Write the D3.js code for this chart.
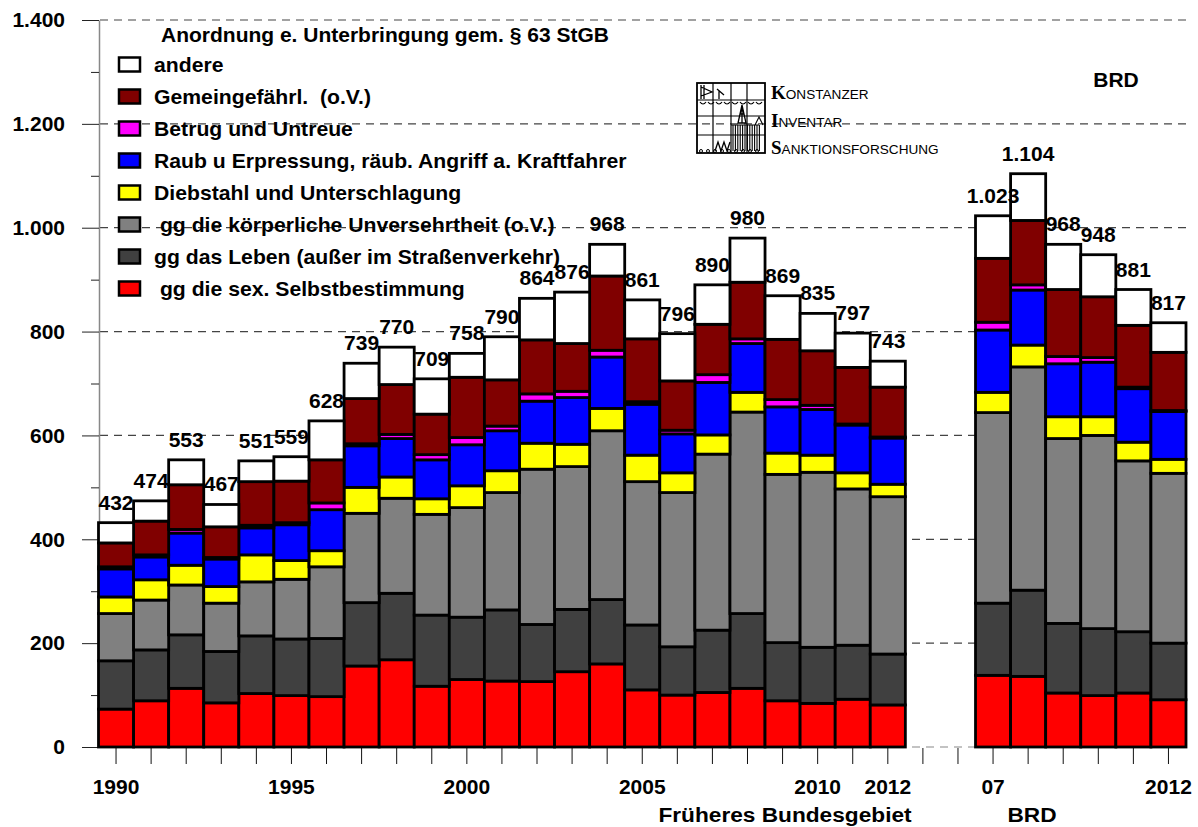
<!DOCTYPE html>
<html>
<head>
<meta charset="utf-8">
<script src="https://cdn.jsdelivr.net/npm/d3@7"></script>
<style>
  body { margin: 0; background: #fff; }
  svg text { font-family: "Liberation Sans", Arial, sans-serif; font-weight: bold; fill: #000; }
</style>
</head>
<body>
<div id="chart"></div>
<script>
// chart size
const width = 1198;
const height = 827;

// x slots: Früheres Bundesgebiet 1990-2012, two empty slots, BRD 2007-2012
const slots = [
  "1990", "1991", "1992", "1993", "1994", "1995", "1996", "1997", "1998", "1999",
  "2000", "2001", "2002", "2003", "2004", "2005", "2006", "2007", "2008", "2009",
  "2010", "2011", "2012", "gap1", "gap2",
  "BRD2007", "BRD2008", "BRD2009", "BRD2010", "BRD2011", "BRD2012",
];
const tickLabels = [
  "1990", "", "", "", "", "1995", "", "", "", "",
  "2000", "", "", "", "", "2005", "", "", "", "",
  "2010", "", "2012", "", "",
  "07", "", "", "", "", "2012",
];

// the bars (gap slots carry no data)
const categories = slots.filter((s) => !s.startsWith("gap"));

// series values, bottom to top of each stack
const sexSelbst = [73, 89, 113, 85, 103, 99, 97, 156, 168, 117, 130, 127, 126, 145, 160, 110, 100, 105, 113, 89, 84, 92, 81, 138, 136, 104, 99, 104, 91];
const leben = [93, 98, 103, 99, 111, 109, 112, 122, 128, 137, 120, 137, 110, 120, 124, 125, 93, 120, 144, 112, 108, 104, 98, 139, 166, 134, 129, 118, 109];
const koerper = [91, 96, 96, 93, 104, 115, 138, 172, 183, 194, 211, 226, 299, 275, 325, 276, 297, 339, 388, 324, 337, 301, 303, 367, 430, 356, 372, 329, 327];
const diebstahl = [32, 39, 38, 32, 52, 36, 31, 50, 41, 30, 42, 42, 50, 43, 43, 51, 38, 37, 38, 41, 33, 31, 24, 39, 42, 42, 36, 36, 27];
const raub = [54, 44, 62, 53, 52, 69, 79, 80, 74, 75, 79, 77, 81, 90, 99, 98, 75, 101, 94, 89, 88, 92, 89, 120, 106, 102, 105, 103, 92];
const betrug = [4, 4, 7, 3, 5, 4, 13, 4, 8, 10, 14, 9, 14, 12, 13, 5, 7, 15, 9, 14, 8, 2, 2, 15, 10, 14, 9, 3, 2];
const gemein = [46, 65, 86, 59, 84, 80, 83, 87, 96, 78, 116, 89, 104, 92, 143, 121, 95, 97, 109, 116, 105, 109, 96, 123, 124, 129, 117, 119, 112];
const andere = [39, 39, 48, 43, 40, 47, 75, 68, 72, 68, 46, 83, 80, 99, 61, 75, 91, 76, 85, 84, 72, 66, 50, 82, 90, 87, 81, 69, 57];

// totals printed above the bars
const totals = [432, 474, 553, 467, 551, 559, 628, 739, 770, 709, 758, 790, 864, 876, 968, 861, 796, 890, 980, 869, 835, 797, 743, 1023, 1104, 968, 948, 881, 817];

// series names and colours (stack order)
const seriesKeys = ["sex", "leben", "koerper", "dieb", "raub", "betrug", "gemein", "andere"];
const seriesNames = [
  " gg die sex. Selbstbestimmung",
  "gg das Leben (außer im Straßenverkehr)",
  " gg die körperliche Unversehrtheit (o.V.)",
  "Diebstahl und Unterschlagung",
  "Raub u Erpressung, räub. Angriff a. Kraftfahrer",
  "Betrug und Untreue",
  "Gemeingefährl.  (o.V.)",
  "andere",
];
const seriesColors = ["#ff0000", "#404040", "#808080", "#ffff00", "#0000ff", "#ff00ff", "#800000", "#ffffff"];

const yTicks = [0, 200, 400, 600, 800, 1000, 1200, 1400];
const yMinorTicks = [100, 300, 500, 700, 900, 1100, 1300];

// table for d3.stack
const seriesValues = [sexSelbst, leben, koerper, diebstahl, raub, betrug, gemein, andere];
const table = categories.map((c, i) => {
  const row = { cat: c, total: totals[i] };
  seriesKeys.forEach((k, j) => (row[k] = seriesValues[j][i]));
  return row;
});

// german number format (1.023)
const de = d3.formatLocale({ decimal: ",", thousands: ".", grouping: [3], currency: ["", " €"] });
const fmt = de.format(",d");

// scales
const x = d3.scaleBand().domain(slots).range([98.5, 1186]).padding(0);
const y = d3.scaleLinear().domain([0, 1400]).range([747, 20]);

const svg = d3
  .select("#chart")
  .append("svg")
  .attr("width", width)
  .attr("height", height)
  .style("background", "#fff");

// dashed gridlines
svg
  .append("g")
  .selectAll("line")
  .data(yTicks)
  .enter()
  .append("line")
  .attr("x1", 100)
  .attr("x2", 1186)
  .attr("y1", (d) => y(d))
  .attr("y2", (d) => y(d))
  .attr("stroke", (d) => (d === 0 ? "#888" : "#444"))
  .attr("stroke-width", 1.2)
  .attr("stroke-dasharray", "8,6");

// y axis, major and minor ticks
const yAxis = svg
  .append("g")
  .attr("transform", "translate(99,0)")
  .call(d3.axisLeft(y).tickValues(yTicks).tickSize(17).tickSizeOuter(0).tickPadding(17).tickFormat(fmt));
yAxis.select(".domain").attr("stroke", "#888").attr("stroke-width", 1.5);
yAxis.selectAll(".tick line").attr("stroke", "#222");
yAxis.selectAll("text").style("font-size", "21px");

const yMinor = svg
  .append("g")
  .attr("transform", "translate(99,0)")
  .call(d3.axisLeft(y).tickValues(yMinorTicks).tickSize(8).tickFormat(""));
yMinor.select(".domain").remove();
yMinor.selectAll(".tick line").attr("stroke", "#222");

// x axis
const xAxis = svg
  .append("g")
  .attr("transform", "translate(0,748)")
  .call(d3.axisBottom(x).tickSize(16).tickPadding(15).tickFormat((d, i) => tickLabels[i]));
xAxis.select(".domain").remove();
xAxis.selectAll(".tick line").attr("stroke", "#111");
xAxis.selectAll("text").style("font-size", "21px");

// stacked bars
const stacked = d3.stack().keys(seriesKeys)(table);
svg
  .append("g")
  .selectAll("g")
  .data(stacked)
  .enter()
  .append("g")
  .attr("fill", (d, i) => seriesColors[i])
  .selectAll("rect")
  .data((d) => d)
  .enter()
  .append("rect")
  .attr("x", (d) => x(d.data.cat))
  .attr("width", x.bandwidth())
  .attr("y", (d) => y(d[1]))
  .attr("height", (d) => y(d[0]) - y(d[1]))
  .attr("stroke", "#000")
  .attr("stroke-width", 2.8);

// totals above bars
svg
  .append("g")
  .selectAll("text")
  .data(table)
  .enter()
  .append("text")
  .attr("x", (d) => x(d.cat) + x.bandwidth() / 2)
  .attr("y", (d) => y(d.total) - 13)
  .attr("text-anchor", "middle")
  .style("font-size", "21px")
  .text((d) => fmt(d.total));

// legend (text is a bit wider than Arial in the original, hence the stretch)
svg
  .append("text")
  .attr("transform", "translate(161,42) scale(1.05,1)")
  .style("font-size", "20px")
  .text("Anordnung e. Unterbringung gem. § 63 StGB");

const legendOrder = d3.range(seriesKeys.length).reverse();
const legend = svg
  .append("g")
  .selectAll("g")
  .data(legendOrder)
  .enter()
  .append("g")
  .attr("transform", (d, i) => `translate(0,${64.5 + i * 32})`);
legend
  .append("rect")
  .attr("x", 119)
  .attr("y", -7)
  .attr("width", 21)
  .attr("height", 14)
  .attr("fill", (d) => seriesColors[d])
  .attr("stroke", "#000")
  .attr("stroke-width", 2.5);
legend
  .append("text")
  .attr("transform", "translate(154,0) scale(1.06,1)")
  .attr("dy", "0.36em")
  .style("font-size", "20px")
  .style("white-space", "pre")
  .text((d) => seriesNames[d]);

// BRD top right
svg.append("text").attr("x", 1116).attr("y", 87).attr("text-anchor", "middle").style("font-size", "21px").text("BRD");

// panel captions
svg
  .append("text")
  .attr("transform", "translate(785,822) scale(1.08,1)")
  .attr("text-anchor", "middle")
  .style("font-size", "21px")
  .text("Früheres Bundesgebiet");
svg
  .append("text")
  .attr("transform", "translate(1032,822) scale(1.08,1)")
  .attr("text-anchor", "middle")
  .style("font-size", "21px")
  .text("BRD");

// KIS logo (rough line drawing)
const logo = svg.append("g").attr("transform", "translate(697,83)").attr("fill", "none").attr("stroke", "#000");
logo.append("rect").attr("width", 68).attr("height", 70).attr("stroke-width", 1.8);
[16, 34, 50].forEach((vx) => logo.append("line").attr("x1", vx).attr("x2", vx).attr("y1", 0).attr("y2", 70).attr("stroke-width", 1.2));
[17, 33, 52].forEach((hy) => logo.append("line").attr("x1", 0).attr("x2", 68).attr("y1", hy).attr("y2", hy).attr("stroke-width", 1.2));
logo.append("path").attr("d", "M4,2 L4,16 M4,4 L15,9 L4,13 M7,2 V16 M20,6 L27,12 M22,8 V16").attr("stroke-width", 1.3);
logo
  .append("path")
  .attr("d", d3.range(3, 66, 8).map((sx) => `M${sx},19 q3,4 6,0`).join(" "))
  .attr("stroke-width", 1.2);
logo.append("path").attr("d", "M45,22 L41,40 L49,40 Z M45,22 V40 M43,31 H47").attr("stroke-width", 1.3);
logo
  .append("path")
  .attr("d", d3.range(36, 63, 2.4).map((hx) => `M${hx},42 V68`).join(" "))
  .attr("stroke-width", 1.1);
logo.append("path").attr("d", "M34,42 H62 M58,42 L62,34 L66,42").attr("stroke-width", 1.1);
logo.append("path").attr("d", "M18,68 L21,59 L24,68 L27,59 L30,68 L33,59").attr("stroke-width", 1.3);
logo
  .append("path")
  .attr("d", d3.range(4, 66, 7).map((cx) => `M${cx - 1.5},68 a1.5,1.5 0 1,0 3,0 a1.5,1.5 0 1,0 -3,0`).join(" "))
  .attr("stroke-width", 1);

const logoText = [
  ["K", "ONSTANZER", 99],
  ["I", "NVENTAR", 127],
  ["S", "ANKTIONSFORSCHUNG", 154],
];
logoText.forEach(([big, rest, by]) => {
  const t = svg.append("text").attr("x", 771).attr("y", by);
  t.append("tspan").style("font-family", "'Liberation Serif', serif").style("font-size", "19px").text(big);
  t.append("tspan").style("font-weight", "normal").style("font-size", "13.6px").text(rest);
});
</script>
</body>
</html>
